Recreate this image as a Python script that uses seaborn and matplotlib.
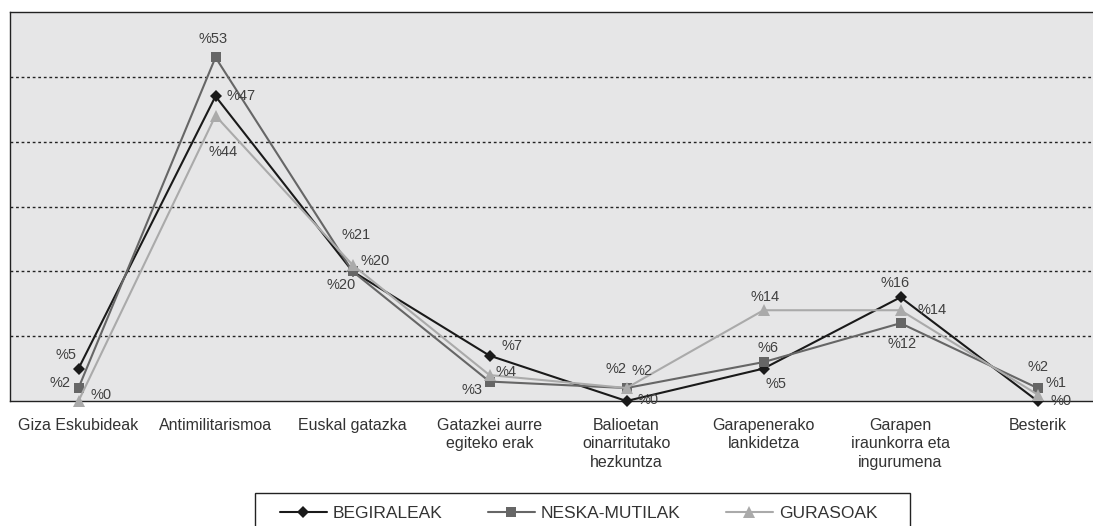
import pandas as pd
import matplotlib
matplotlib.use("Agg")
import matplotlib.pyplot as plt
from matplotlib.patches import Rectangle
import seaborn as sns

categories = ["Giza Eskubideak", "Antimilitarismoa", "Euskal gatazka",
              "Gatazkei aurre\negiteko erak", "Balioetan\noinarritutako\nhezkuntza",
              "Garapenerako\nlankidetza", "Garapen\niraunkorra eta\ningurumena", "Besterik"]
series = ["BEGIRALEAK", "NESKA-MUTILAK", "GURASOAK"]
begiraleak = [5, 47, 20, 7, 0, 5, 16, 0]
neska_mutilak = [2, 53, 20, 3, 2, 6, 12, 2]
gurasoak = [0, 44, 21, 4, 2, 14, 14, 1]

# label offsets in pixels (dx, dy) per point
offsets = {
    "BEGIRALEAK": [(-13, 14), (26, 0), (23, 10), (22, 10), (22, 1), (12, -15), (-5, 14), (24, 0)],
    "NESKA-MUTILAK": [(-18, 5), (-2, 18), (-11, -14), (-17, -8), (-10, 19), (4, 14), (2, -21), (0, 21)],
    "GURASOAK": [(23, 6), (8, -36), (4, 30), (17, 3), (16, 17), (2, 13), (32, 0), (18, 12)],
}

rows = []
for name, vals in zip(series, [begiraleak, neska_mutilak, gurasoak]):
    for i, v in enumerate(vals):
        rows.append({"pos": i, "value": v, "series": name})
df = pd.DataFrame(rows)

sns.set_style("white")
plt.rcParams["font.family"] = ["Liberation Sans", "DejaVu Sans"]

W, H = 1093, 526
fig = plt.figure(figsize=(W / 100, H / 100), dpi=100)
ax = fig.add_axes([10 / W, 125 / H, 1096 / W, 389 / H])
ax.set_facecolor("#e6e6e7")

colors = {"BEGIRALEAK": "#1a1a1a", "NESKA-MUTILAK": "#666666", "GURASOAK": "#aaaaaa"}
markers = {"BEGIRALEAK": "D", "NESKA-MUTILAK": "s", "GURASOAK": "^"}
sizes = {"BEGIRALEAK": 6, "NESKA-MUTILAK": 7.5, "GURASOAK": 9}

for name in series:
    sub = df[df["series"] == name]
    sns.lineplot(data=sub, x="pos", y="value", color=colors[name], marker=markers[name],
                 markersize=sizes[name], markeredgewidth=0, linewidth=1.5, ax=ax,
                 label=name, clip_on=False, zorder=3)
    for (_, r), (dx, dy) in zip(sub.iterrows(), offsets[name]):
        ax.annotate(f"%{r['value']}", (r["pos"], r["value"]), xytext=(dx, dy),
                    textcoords="offset pixels", ha="center", va="center",
                    fontsize=10.5, color="#404040", zorder=4)

ax.set_xlim(-0.5, 7.5)
ax.set_ylim(0, 60)
ax.set_yticks([10, 20, 30, 40, 50])
ax.set_yticklabels([])
ax.tick_params(axis="y", length=0)
ax.yaxis.grid(True, color="#222222", linestyle=(0, (2, 2)), linewidth=1)
ax.set_axisbelow(True)
ax.set_xticks(range(len(categories)))
ax.set_xticklabels(categories, fontsize=11.5, color="#333333", linespacing=1.3, va="top")
ax.tick_params(axis="x", length=0, pad=12)
ax.set_xticks([i + 0.5 for i in range(-1, 8)], minor=True)
ax.tick_params(axis="x", which="minor", length=6, width=1, color="#222222", direction="out")
ax.set_xlabel("")
ax.set_ylabel("")
for s in ["left", "top", "bottom"]:
    ax.spines[s].set_color("#222222")
    ax.spines[s].set_linewidth(1)
ax.spines["right"].set_visible(False)

ax.get_legend().remove()
handles, labels = ax.get_legend_handles_labels()
fig.legend(handles, labels, ncol=3, loc="center left",
           bbox_to_anchor=(280 / W, (H - 513) / H), frameon=False, fontsize=12.5,
           handlelength=2.7, handletextpad=0.35, columnspacing=2.6,
           borderpad=0, borderaxespad=0, labelcolor="#333333")
fig.add_artist(Rectangle((255 / W, -0.1), 655 / W, (H - 493) / H + 0.1,
                         transform=fig.transFigure, fill=False, edgecolor="#222222", linewidth=1))

fig.savefig("out.png", dpi=100, facecolor="white")
